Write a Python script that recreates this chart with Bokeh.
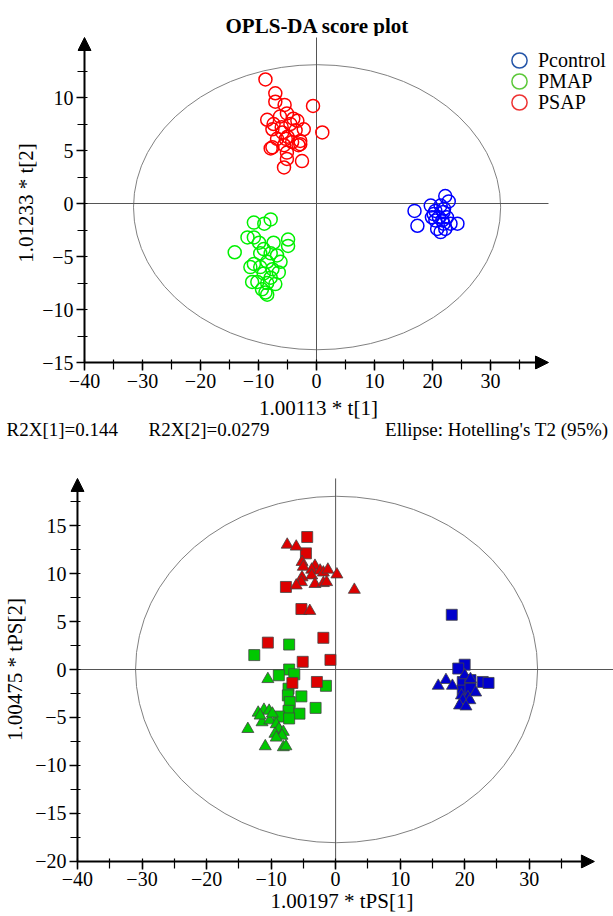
from bokeh.plotting import figure
from bokeh.layouts import column
from bokeh.models import (Label, Arrow, NormalHead, Legend, LegendItem,
                          SingleIntervalTicker, Range1d)
from bokeh.embed import file_html
from bokeh.resources import INLINE

FONT = "Liberation Serif"
W = 613

# ---------------- OPLS-DA score plot (top) ----------------
ctrl_t1 = [22.2, 22.8, 16.9, 17.4, 19.7, 20.5, 21.4, 21.9, 19.9, 21.1, 22.5,
           20.2, 24.3, 21.9, 20.8, 21.4, 22.2, 23.1, 21.7, 20.5, 22.0]
ctrl_t2 = [0.7, 0.2, -0.7, -2.1, -0.2, -0.7, -0.2, -0.8, -1.3, -1.3, -1.3,
           -1.0, -1.9, -1.9, -2.4, -2.7, -2.4, -1.9, -1.6, -1.6, -0.5]
map_t1 = [-7.9, -10.8, -9.0, -14.1, -11.9, -10.8, -9.9, -7.4, -4.9, -4.9,
          -9.1, -9.7, -7.9, -6.8, -10.8, -8.5, -6.2, -9.7, -7.6, -11.4,
          -9.1, -6.5, -7.9, -11.1, -10.2, -8.5, -7.1, -8.8, -8.5, -9.4]
map_t2 = [-1.5, -1.8, -1.9, -4.6, -3.2, -3.2, -3.7, -3.7, -3.4, -4.0,
          -4.3, -4.7, -4.7, -4.9, -5.7, -5.5, -5.5, -6.0, -6.2, -6.0,
          -6.6, -6.5, -7.0, -7.4, -7.4, -7.5, -7.6, -8.4, -8.6, -8.1]
sap_t1 = [-8.8, -7.1, -7.1, -5.5, -0.6, 1.0, -8.5, -5.1, -3.3, -2.2, -7.6,
          -7.4, -5.9, -4.5, -3.6, -6.8, -5.3, -2.8, -2.8, -7.6, -5.6, -3.1,
          -5.1, -2.5, -5.1, -5.6, -7.9, -6.3, -4.0, -6.0, -5.0, -4.2]
sap_t2 = [11.7, 10.4, 9.6, 9.3, 9.2, 6.7, 7.9, 8.5, 7.8, 7.0, 7.0,
          7.5, 6.7, 7.5, 6.9, 6.1, 6.1, 5.9, 5.6, 5.3, 5.5, 5.5,
          4.8, 4.0, 4.2, 3.4, 5.2, 8.2, 8.0, 7.2, 6.3, 5.8]
groups = ["Pcontrol", "PMAP", "PSAP"]
t2_ellipse_top = dict(x=[0.1], y=[-0.35], width=[63.3], height=[26.9])
stats_text = ["R2X[1]=0.144", "R2X[2]=0.0279", "Ellipse: Hotelling's T2 (95%)"]

# ---------------- tPS plot (bottom) ----------------
psap_sq_x = [-4.4, -4.6, -7.7, -5.3, -10.5, -1.9, -5.1, -0.8, -6.7, -2.9]
psap_sq_y = [13.8, 12.1, 8.6, 6.3, 2.8, 3.3, 0.8, 1.0, -1.4, -1.3]
psap_tr_x = [-7.5, -6.1, -5.2, -5.0, -3.2, -3.7, -2.4, -1.9, -1.2, 0.2, -5.2,
             -3.7, -5.3, -3.2, -1.9, -1.4, -6.1, 2.9, -4.0]
psap_tr_y = [13.0, 12.8, 11.2, 10.7, 10.8, 10.4, 10.3, 10.1, 10.4, 9.9, 9.6,
             9.8, 9.1, 8.9, 9.0, 9.1, 8.75, 8.3, 6.1]
pmap_sq_x = [-7.2, -12.6, -7.2, -8.8, -6.4, -1.5, -7.3, -7.4, -5.3, -7.1,
             -3.1, -7.3, -5.6, -8.8, -7.2]
pmap_sq_y = [2.6, 1.5, 0.0, -0.6, -0.5, -1.7, -2.0, -2.7, -2.8, -3.4,
             -4.0, -4.3, -4.6, -4.9, -5.1]
pmap_tr_x = [-10.5, -12.0, -11.1, -10.3, -11.4, -10.2, -13.6, -9.2, -8.8,
             -8.1, -9.4, -8.3, -9.2, -10.9, -8.1, -7.7, -11.7, -9.8]
pmap_tr_y = [-1.0, -4.5, -4.2, -4.3, -5.5, -5.3, -6.2, -5.7, -6.2,
             -6.5, -6.7, -6.9, -7.1, -8.0, -8.1, -8.0, -4.8, -4.6]
ctrl_sq_x = [18.0, 20.0, 19.0, 19.7, 20.9, 22.8, 19.7, 20.9, 23.7]
ctrl_sq_y = [5.7, 0.5, 0.1, -1.3, -1.1, -1.3, -2.2, -2.0, -1.4]
ctrl_tr_x = [15.9, 17.1, 18.1, 20.0, 20.9, 19.5, 20.5, 19.7, 20.8, 19.2, 20.2, 21.7]
ctrl_tr_y = [-1.7, -1.1, -1.7, -0.6, -1.0, -2.7, -2.9, -3.2, -3.2, -3.75, -3.85, -2.4]
t2_ellipse_bot = dict(x=[0.15], y=[0.0], width=[62.3], height=[36.1])

TOP_COLORS = ["#0000FF", "#00F000", "#FF0000"]
LEGEND_COLORS = ["#2455A8", "#5CC83A", "#EE3333"]
BOT_COLORS = ["#0000CC", "#00C800", "#DD0000"]
REF_LINE = "#555555"


def style(p, xb, yb, xi, yi, d=7):
    p.outline_line_color = None
    p.xgrid.visible = False
    p.ygrid.visible = False
    p.xaxis.bounds = xb
    p.yaxis.bounds = yb
    p.xaxis.ticker = SingleIntervalTicker(interval=xi, num_minor_ticks=2)
    p.yaxis.ticker = SingleIntervalTicker(interval=yi, num_minor_ticks=2)
    for ax in (p.xaxis[0], p.yaxis[0]):
        ax.axis_line_color = None
        ax.major_tick_line_width = 1.5
        ax.major_tick_line_color = "black"
        ax.major_tick_in = d
        ax.major_tick_out = 1
        ax.minor_tick_in = d + 3
        ax.minor_tick_out = 0
        ax.minor_tick_line_width = 1.2
        ax.minor_tick_line_color = "black"
        ax.major_label_text_font = FONT
        ax.major_label_text_font_size = "20px"
        ax.major_label_text_color = "black"
        ax.axis_label_text_font = FONT
        ax.axis_label_text_font_size = "21px"
        ax.axis_label_text_font_style = "normal"
        ax.axis_label_text_color = "black"
    p.xaxis.major_label_standoff = 3
    p.yaxis.major_label_standoff = 3
    p.yaxis.major_label_orientation = "horizontal"


def head():
    return NormalHead(size=13, fill_color="black", line_color="black", line_width=1)


def strip(height, y_bottom, y_top):
    s = figure(width=W, height=height, x_range=(0, W),
               y_range=Range1d(y_bottom, y_top), output_backend="svg",
               toolbar_location=None, min_border=0, min_border_left=0,
               min_border_right=0, min_border_top=0, min_border_bottom=0,
               x_axis_type=None, y_axis_type=None, frame_align=False)
    s.outline_line_color = None
    return s


# ---- title strip (page y 0..36) ----
s_title = strip(36, 36, 0)
s_title.add_layout(Label(x=317, y=25, text="OPLS-DA score plot", text_font=FONT,
                         text_font_size="21px", text_font_style="bold",
                         text_color="black", text_align="center", text_baseline="middle"))

# ---- top figure (page y 36..393) ----
p1 = figure(width=W, height=357, x_range=(-41.207, 51.207), y_range=(-15.66, 15.755),
            output_backend="svg", toolbar_location=None, frame_align=False,
            min_border_left=77, min_border_right=0, min_border_top=0,
            min_border_bottom=24)
style(p1, (-40, 38), (-15, 14), 10, 5)
p1.yaxis.axis_label = "1.01233 * t[2]"
p1.yaxis.axis_label_standoff = 1

p1.ellipse(x="x", y="y", width="width", height="height", source=t2_ellipse_top,
           fill_color=None, line_color="#808080", line_width=1)
p1.segment(x0=[0], y0=[-15], x1=[0], y1=[15.66], line_color=REF_LINE, line_width=1)
p1.segment(x0=[-40], y0=[0], x1=[40], y1=[0], line_color=REF_LINE, line_width=1)

for xs, ys, c in zip([ctrl_t1, map_t1, sap_t1], [ctrl_t2, map_t2, sap_t2], TOP_COLORS):
    p1.scatter(xs, ys, marker="circle", size=13, fill_color=None,
               line_color=c, line_width=1.5)

# legend keys (no visible data point) drawn in the legend colours of the original
nan = float("nan")
leg_rs = [p1.scatter(x=[nan], y=[nan], marker="circle", size=13, fill_color=None,
                     line_color=c, line_width=1.5) for c in LEGEND_COLORS]

# one single-item legend per row so the rows can sit close with large icons
for g, r, vy in zip(groups, leg_rs, [290, 269, 248]):
    p1.add_layout(Legend(items=[LegendItem(label=g, renderers=[r])],
                         location=(423, vy), margin=0, padding=0, spacing=0,
                         border_line_color=None, background_fill_alpha=0,
                         label_text_font=FONT, label_text_font_size="20px",
                         label_text_color="black",
                         glyph_width=38, glyph_height=38, label_height=20,
                         label_standoff=-5))

p1.add_layout(Arrow(end=head(), x_start=-40, y_start=-15, x_end=40, y_end=-15,
                    line_width=2, line_color="black"))
p1.add_layout(Arrow(end=head(), x_start=-40, y_start=-15, x_end=-40, y_end=15.66,
                    line_width=2, line_color="black"))

# ---- strip with x label of top plot and the statistics (page y 393..470) ----
s_mid = strip(77, 470, 393)
s_mid.add_layout(Label(x=318, y=407, text="1.00113 * t[1]", text_font=FONT,
                       text_font_size="21px", text_color="black",
                       text_align="center", text_baseline="middle"))
for txt, xx, al in zip(stats_text, [6, 148, 608], ["left", "left", "right"]):
    s_mid.add_layout(Label(x=xx, y=429, text=txt, text_font=FONT,
                           text_font_size="19px", text_color="black",
                           text_align=al, text_baseline="middle"))

# ---- bottom figure (page y 470..916) ----
p2 = figure(width=W, height=446, x_range=(-41.08, 43.06), y_range=(-20.73, 20.73),
            output_backend="svg", toolbar_location=None, frame_align=False,
            min_border_left=68, min_border_right=0, min_border_top=0,
            min_border_bottom=48)
style(p2, (-40, 38), (-20, 19), 10, 5)
p2.yaxis.axis_label = "1.00475 * tPS[2]"
p2.xaxis.axis_label = "1.00197 * tPS[1]"
p2.xaxis.axis_label_standoff = 0
p2.xaxis.major_label_standoff = 2

p2.ellipse(x="x", y="y", width="width", height="height", source=t2_ellipse_bot,
           fill_color=None, line_color="#808080", line_width=1)
p2.segment(x0=[0], y0=[-20], x1=[0], y1=[19.9], line_color=REF_LINE, line_width=1)
p2.segment(x0=[-40], y0=[0], x1=[43.06], y1=[0], line_color=REF_LINE, line_width=1)

for xs, ys, c in zip([ctrl_sq_x, pmap_sq_x, psap_sq_x], [ctrl_sq_y, pmap_sq_y, psap_sq_y], BOT_COLORS):
    p2.scatter(xs, ys, marker="square", size=11, fill_color=c, line_color="#444444", line_width=0.8)
for xs, ys, c in zip([ctrl_tr_x, pmap_tr_x, psap_tr_x], [ctrl_tr_y, pmap_tr_y, psap_tr_y], BOT_COLORS):
    p2.scatter(xs, ys, marker="triangle", size=12, fill_color=c, line_color="#444444", line_width=0.8)

p2.add_layout(Arrow(end=head(), x_start=-40, y_start=-20, x_end=40.1, y_end=-20,
                    line_width=2, line_color="black"))
p2.add_layout(Arrow(end=head(), x_start=-40, y_start=-20, x_end=-40, y_end=19.9,
                    line_width=2, line_color="black"))

layout = column(s_title, p1, s_mid, p2, spacing=0)
open("out.html", "w").write(file_html(layout, INLINE))
